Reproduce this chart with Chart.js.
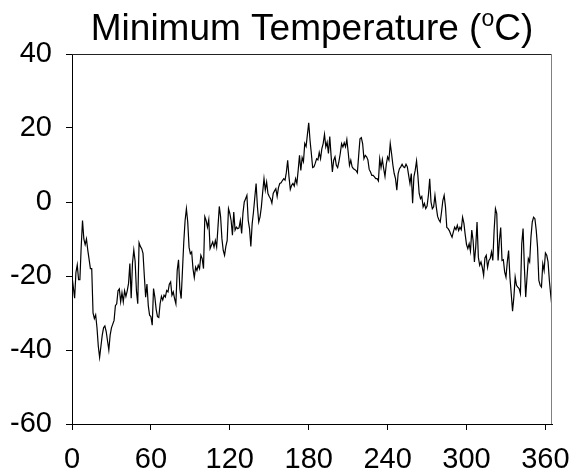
<!DOCTYPE html>
<html>
<head>
  <title>Minimum Temperature</title>
  <meta charset="UTF-8">
  <style>
    body {
      margin: 0;
      background: #fff;
    }
    canvas {
      display: block;
    }
  </style>
  <script src="https://cdn.jsdelivr.net/npm/chart.js"></script>
</head>
<body>
  <canvas id="tempChart" width="573" height="475"></canvas>

  <script>
  // daily minimum temperature (deg C), day 0 .. 365
  const minTemp = [
    -20, -23, -26, -19, -17, -21, -21, -12, -5, -10,
    -11.5, -10, -13, -15.5, -18, -18, -30, -31.5, -30.5, -34,
    -39, -42, -39, -36, -34, -33.5, -35, -37.5, -40, -36,
    -34, -33, -32, -28, -27.5, -24, -23.5, -27, -24.5, -27,
    -24, -25.5, -24, -22, -16.6, -26, -16.5, -13, -16, -24,
    -27.5, -11, -12, -12.6, -13.9, -20, -25.7, -22.2, -28, -30.6,
    -31, -33.3, -23.4, -25.7, -29, -31, -31.2, -27.5, -25.5, -26.5,
    -25.2, -25.7, -23.9, -24.3, -22.2, -21.6, -25.2, -24.3, -26.1, -27.5,
    -18.5, -15.6, -23.4, -26.1, -18.5, -10.8, -5, -1.8, -5.4, -12.2,
    -14, -13.5, -18, -20.4, -17.6, -18.5, -17.1, -18, -14.4, -15.3,
    -18, -4, -5, -6.8, -4.8, -12.6, -11.7, -10.8, -12.2, -10.4,
    -12.2, -6.8, -1.2, -4, -9.9, -13.1, -14.4, -12, -10.4, -1.8,
    -3.1, -5, -9, -2.7, -7.6, -6.8, -7.2, -7, -5, -8.5,
    -3, 0, 0.9, 1.8, -5, -7.2, -12, -5.9, -2.7, 1.2,
    5, -1.3, -5.4, -4, -1.3, 2.7, 6.3, 3.2, 5.4, 2.3,
    1.5, 0.9, -0.3, 2.3, 3, 3.6, 1.5, 3.9, 5, 5.2,
    5.8, 6.3, 5.9, 8, 11.3, 6.8, 3.4, 4.5, 5, 4.3,
    6.3, 5, 8.6, 12.6, 8.5, 12, 10.9, 15.8, 15, 18.2,
    21.4, 16.7, 13.1, 9.3, 9.5, 10.5, 11.7, 11.4, 13.4, 11.7,
    14.4, 15.8, 18.3, 14.9, 16.2, 13.1, 17.7, 12.6, 8.1, 11.3,
    12.2, 9.9, 9.3, 11, 13.1, 15.8, 14.9, 16, 14.9, 16.9,
    13.5, 9.9, 11.3, 9.5, 9, 8.8, 8.5, 7.9, 12.6, 17.1,
    17.4, 15.8, 11.7, 12.6, 12.2, 11.4, 8.8, 8.1, 7.2, 7.2,
    6.8, 6.3, 6.3, 5.7, 11.7, 9.3, 11.5, 9, 6.9, 10.2,
    12.2, 11.3, 15.8, 13.1, 10, 7.7, 6.3, 3.2, 7.7, 9,
    9.5, 10.2, 9.5, 9.3, 10.2, 9.5, 7.2, 5, 7.7, -0.3,
    6.8, 8.6, 11.1, 7.2, 2.3, 0.9, 1.5, -1.3, -0.4, -1.8,
    -1.1, 1.8, 6.3, 0, -1.8, -1.3, 1.8, -1.3, -3.9, -4.8,
    -5.4, -2.7, 0.4, 1.8, -1.3, -6.9, -7.2, -7.8, -8.7, -9.5,
    -8.1, -6.8, -7.5, -6.3, -7.7, -6.8, -7.5, -4.1, -5.7, -8.8,
    -11.5, -12.6, -11.3, -13.3, -7.6, -10.4, -16.2, -12.2, -5.4, -14.9,
    -17.1, -16.2, -17.7, -19.8, -15.1, -14.4, -17.7, -15.8, -15.3, -13.5,
    -15.8, -7.6, -1.8, -3.1, -15.8, -10.4, -6.9, -15.8, -15.6, -18.9,
    -20.3, -16.2, -13.1, -20.3, -24.8, -29.5, -25.7, -20.3, -22.5, -23,
    -23.4, -24.8, -11.3, -7.2, -17.6, -25.7, -20.3, -15.3, -16.2, -9.5,
    -5.4, -4.1, -4.5, -7.6, -12.2, -21.2, -22.5, -23, -16.7, -18.5,
    -13.8, -14.4, -16.2, -21.2, -25, -28.5
  ];
  const days = minTemp.map((v, i) => i);

  const xTicks = [0, 60, 120, 180, 240, 300, 360];
  const yTicks = [-60, -40, -20, 0, 20, 40];

  const titleText = "Minimum Temperature (";
  const titleSup = "o";
  const titleEnd = "C)";

  const FONT = "'Liberation Sans', Arial, sans-serif";

  // title with superscript o, plus the grey top/right frame
  const framePlugin = {
    id: "frame",
    afterDraw(chart) {
      const ctx = chart.ctx;
      const a = chart.chartArea;
      ctx.save();
      ctx.lineWidth = 1;
      ctx.strokeStyle = "#222";
      ctx.beginPath();
      ctx.moveTo(a.left, a.top + 0.5);
      ctx.lineTo(a.right, a.top + 0.5);
      ctx.stroke();
      ctx.strokeStyle = "#808080";
      ctx.beginPath();
      ctx.moveTo(a.right - 0.5, a.top);
      ctx.lineTo(a.right - 0.5, a.bottom);
      ctx.stroke();

      ctx.fillStyle = "#000";
      ctx.textBaseline = "alphabetic";
      ctx.textAlign = "left";
      const big = "37px " + FONT;
      const small = "23px " + FONT;
      ctx.font = big;
      const w1 = ctx.measureText(titleText).width;
      const w3 = ctx.measureText(titleEnd).width;
      ctx.font = small;
      const w2 = ctx.measureText(titleSup).width;
      let x = (a.left + a.right) / 2 - (w1 + w2 + w3) / 2;
      const base = 40;
      ctx.font = big;
      ctx.fillText(titleText, x, base);
      x += w1;
      ctx.font = small;
      ctx.fillText(titleSup, x, base - 14.5);
      x += w2;
      ctx.font = big;
      ctx.fillText(titleEnd, x, base);
      ctx.restore();
    }
  };

  const tempChart = new Chart(document.getElementById("tempChart").getContext("2d"), {
    type: "line",
    data: {
      datasets: [{
        data: days.map((d, i) => ({ x: d, y: minTemp[i] })),
        borderColor: "#000",
        borderWidth: 1.2,
        pointRadius: 0,
        tension: 0,
        fill: false
      }]
    },
    options: {
      responsive: false,
      animation: false,
      devicePixelRatio: 1,
      layout: {
        padding: { top: 54, right: 21, bottom: 0, left: 0 }
      },
      plugins: {
        legend: { display: false },
        tooltip: { enabled: false },
        title: { display: false }
      },
      scales: {
        x: {
          type: "linear",
          min: 0,
          max: 365,
          afterBuildTicks: s => { s.ticks = xTicks.map(v => ({ value: v })); },
          afterFit: s => {
            s.height = 51;
            s.paddingLeft = 0;
            s.paddingRight = 0;
          },
          grid: {
            drawOnChartArea: false,
            drawTicks: true,
            tickLength: 6,
            color: "#000"
          },
          border: { display: true, color: "#000", width: 1 },
          ticks: {
            color: "#000",
            padding: 13,
            maxRotation: 0,
            font: { family: FONT, size: 29 }
          }
        },
        y: {
          min: -60,
          max: 40,
          afterBuildTicks: s => { s.ticks = yTicks.map(v => ({ value: v })); },
          afterFit: s => {
            s.width = 72;
            s.paddingTop = 0;
            s.paddingBottom = 0;
          },
          grid: {
            drawOnChartArea: false,
            drawTicks: true,
            tickLength: 6,
            color: "#000"
          },
          border: { display: true, color: "#000", width: 1 },
          ticks: {
            color: "#000",
            padding: 14,
            font: { family: FONT, size: 29 }
          }
        }
      }
    },
    plugins: [framePlugin]
  });
  </script>
</body>
</html>
